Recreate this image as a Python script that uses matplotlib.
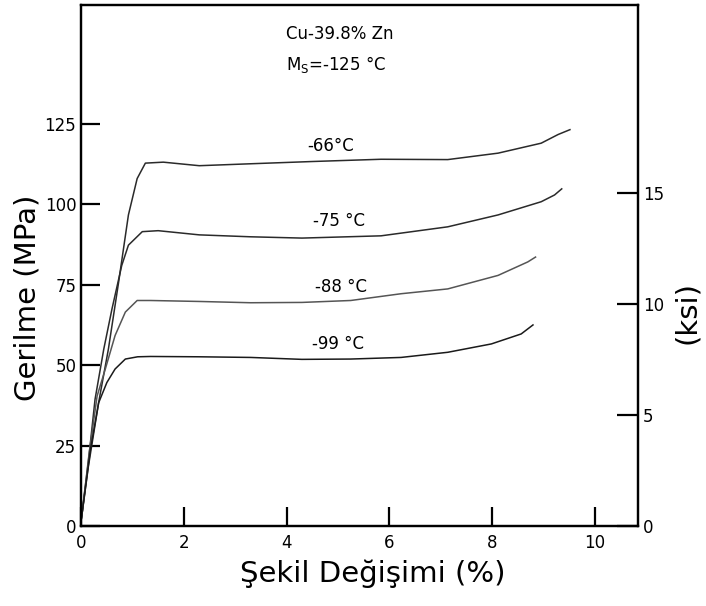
import numpy as np
import matplotlib
matplotlib.use('Agg')
import matplotlib.pyplot as plt

# Strain (%) and stress (MPa)
strain_66 = [0, 0.01, 0.14, 0.34, 0.53, 0.73, 0.92, 1.09, 1.25, 1.6, 2.3, 3.3, 4.5, 5.84, 7.14, 8.12, 8.96, 9.29, 9.52]
stress_66 = [2, 3, 18.5, 38.4, 55, 75.9, 96.7, 108, 112.8, 113.1, 112, 112.6, 113.3, 114, 113.9, 115.9, 119, 121.7, 123.2]

strain_75 = [0, 0.01, 0.14, 0.27, 0.44, 0.6, 0.79, 0.92, 1.19, 1.5, 2.3, 3.3, 4.3, 5.84, 7.14, 8.12, 8.96, 9.22, 9.36]
stress_75 = [2, 3, 20, 39.4, 55, 67.5, 81, 87.3, 91.5, 91.8, 90.5, 89.9, 89.5, 90.2, 93, 96.7, 100.8, 102.9, 104.8]

strain_88 = [0, 0.01, 0.15, 0.31, 0.47, 0.66, 0.86, 1.09, 1.35, 2.3, 3.3, 4.3, 5.25, 6.23, 7.14, 8.12, 8.7, 8.85]
stress_88 = [2, 3, 22, 40.4, 48.8, 59.2, 66.5, 70.1, 70.1, 69.8, 69.4, 69.5, 70.1, 72.2, 73.7, 77.9, 82.1, 83.6]

strain_99 = [0, 0.01, 0.18, 0.34, 0.5, 0.66, 0.86, 1.1, 1.35, 2.3, 3.3, 4.3, 5.25, 6.23, 7.14, 7.99, 8.57, 8.8]
stress_99 = [2, 3, 23.8, 38.3, 44.6, 48.8, 51.9, 52.6, 52.7, 52.6, 52.4, 51.8, 51.9, 52.4, 54, 56.6, 59.7, 62.5]

curve_labels = ['-66°C', '-75 °C', '-88 °C', '-99 °C']
label_pos = [(4.86, 118), (5.02, 94.7), (5.06, 74.4), (5.0, 56.6)]

x_ticks = [0, 2, 4, 6, 8, 10]
mpa_ticks = [0, 25, 50, 75, 100, 125]
ksi_ticks = [0, 5, 10, 15]
MPA_PER_KSI = 6.895

fig = plt.figure(figsize=(7.06, 6.06), dpi=100)
ax = fig.add_axes([0.115, 0.132, 0.789, 0.860])

curves = [(strain_66, stress_66, '#2a2a2a'), (strain_75, stress_75, '#2a2a2a'),
          (strain_88, stress_88, '#555555'), (strain_99, stress_99, '#1a1a1a')]
for xs, ys, c in curves:
    ax.plot(xs, ys, color=c, lw=1.1)

for txt, (px, py) in zip(curve_labels, label_pos):
    ax.text(px, py, txt, ha='center', va='center', fontsize=12)

ax.text(3.98, 152.9, 'Cu-39.8% Zn', ha='left', va='center', fontsize=12)
ax.text(3.98, 143.5, r'M$_\mathregular{S}$=-125 °C', ha='left', va='center', fontsize=12)

ax.set_xlim(0, 10.85)
ax.set_ylim(0, 162)
ax.set_xticks(x_ticks)
ax.set_yticks(mpa_ticks)
ax.tick_params(axis='both', direction='in', length=14, width=1.6, labelsize=12)
ax.tick_params(axis='x', pad=6)

ax2 = ax.twinx()
ax2.set_ylim(0, 162 / MPA_PER_KSI)
ax2.set_yticks(ksi_ticks)
ax2.tick_params(axis='y', direction='in', length=15, width=1.6, labelsize=12)

for a in (ax, ax2):
    for s in a.spines.values():
        s.set_linewidth(1.6)

ax.set_xlabel('Şekil Değişimi (%)', fontsize=21)
ax.xaxis.set_label_coords(0.524, -0.065)
ax.set_ylabel('Gerilme (MPa)', fontsize=21)
ax.yaxis.set_label_coords(-0.072, 0.438)
ax2.set_ylabel('(ksi)', fontsize=21)
ax2.yaxis.set_label_coords(1.062, 0.409)

fig.savefig('out.png', dpi=100)
plt.close()
